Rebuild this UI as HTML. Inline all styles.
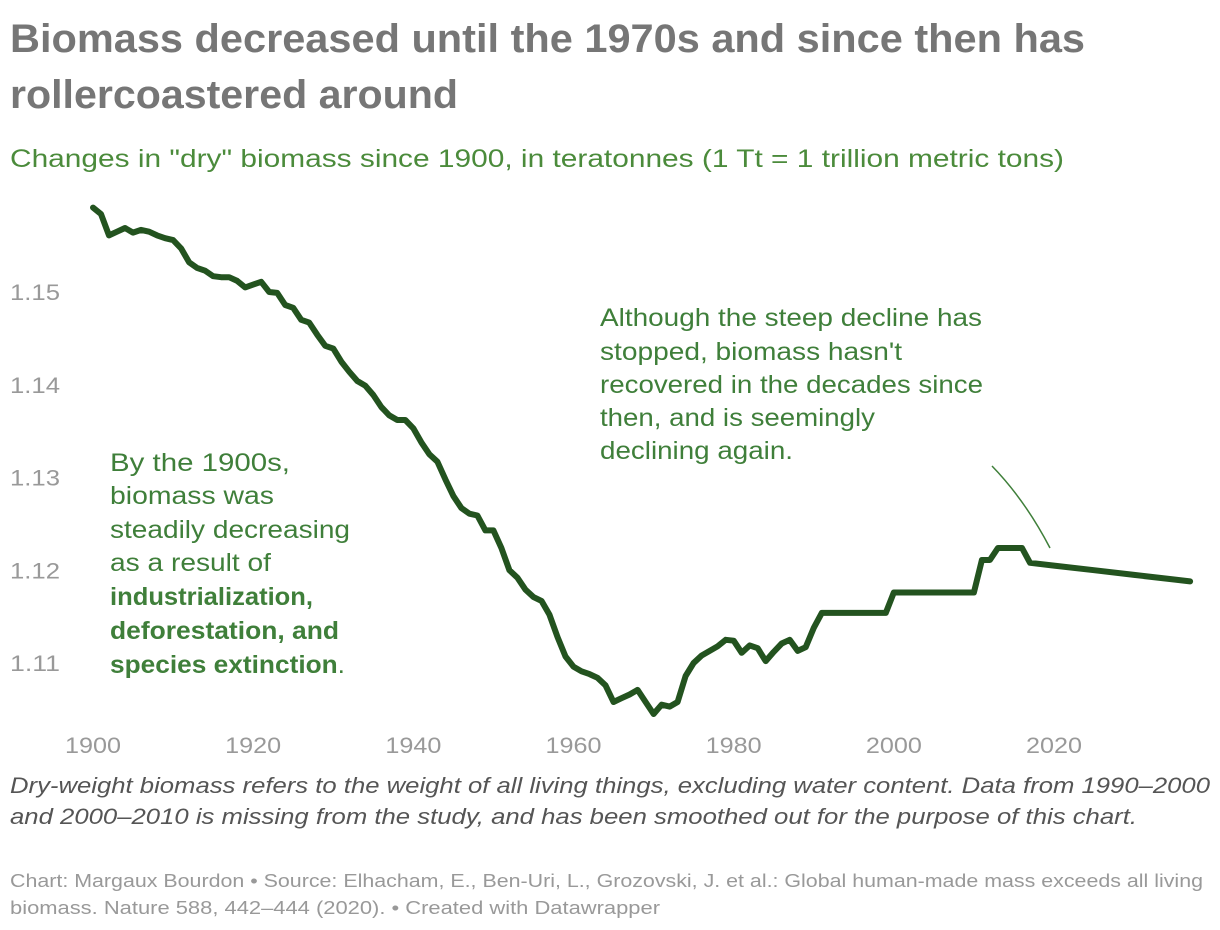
<!DOCTYPE html>
<html><head><meta charset="utf-8"><style>
body{margin:0;background:#fff;}
svg{display:block;font-family:"Liberation Sans",Arial,sans-serif;}
</style></head><body>
<svg id="chart" width="1220" height="930" viewBox="0 0 1220 930">
<text x="10" y="52" font-size="40" font-weight="bold" fill="#767676" textLength="1075" lengthAdjust="spacingAndGlyphs">Biomass decreased until the 1970s and since then has</text>
<text x="10" y="108" font-size="40" font-weight="bold" fill="#767676" textLength="448" lengthAdjust="spacingAndGlyphs">rollercoastered around</text>
<text x="10" y="167" font-size="25" fill="#4b8b3b" textLength="1054" lengthAdjust="spacingAndGlyphs">Changes in "dry" biomass since 1900, in teratonnes (1 Tt = 1 trillion metric tons)</text>
<g id="yticks"></g>
<g id="xticks"></g>
<path id="line" fill="none" stroke="#23531f" stroke-width="6" stroke-linejoin="round" stroke-linecap="round"/>
<g font-size="25" fill="#3f7f3a" lengthAdjust="spacingAndGlyphs">
<text x="110" y="471" textLength="180" lengthAdjust="spacingAndGlyphs">By the 1900s,</text>
<text x="110" y="504" textLength="164" lengthAdjust="spacingAndGlyphs">biomass was</text>
<text x="110" y="538" textLength="240" lengthAdjust="spacingAndGlyphs">steadily decreasing</text>
<text x="110" y="571" textLength="161" lengthAdjust="spacingAndGlyphs">as a result of</text>
<text x="110" y="605" font-weight="bold" textLength="203" lengthAdjust="spacingAndGlyphs">industrialization,</text>
<text x="110" y="639" font-weight="bold" textLength="229" lengthAdjust="spacingAndGlyphs">deforestation, and</text>
<text x="110" y="673" textLength="235" lengthAdjust="spacingAndGlyphs"><tspan font-weight="bold">species extinction</tspan>.</text>
</g>
<g font-size="25" fill="#3f7f3a">
<text x="600" y="326" textLength="382" lengthAdjust="spacingAndGlyphs">Although the steep decline has</text>
<text x="600" y="360" textLength="302" lengthAdjust="spacingAndGlyphs">stopped, biomass hasn't</text>
<text x="600" y="393" textLength="383" lengthAdjust="spacingAndGlyphs">recovered in the decades since</text>
<text x="600" y="426" textLength="275" lengthAdjust="spacingAndGlyphs">then, and is seemingly</text>
<text x="600" y="459" textLength="193" lengthAdjust="spacingAndGlyphs">declining again.</text>
</g>
<path d="M992,466 Q1025,500 1050,548" fill="none" stroke="#3f7f3a" stroke-width="1.5"/>
<text x="10" y="793" font-size="22" font-style="italic" fill="#555" textLength="1200" lengthAdjust="spacingAndGlyphs">Dry-weight biomass refers to the weight of all living things, excluding water content. Data from 1990–2000</text>
<text x="10" y="824" font-size="22" font-style="italic" fill="#555" textLength="1127" lengthAdjust="spacingAndGlyphs">and 2000–2010 is missing from the study, and has been smoothed out for the purpose of this chart.</text>
<text x="10" y="887" font-size="18" fill="#999" textLength="1193" lengthAdjust="spacingAndGlyphs">Chart: Margaux Bourdon • Source: Elhacham, E., Ben-Uri, L., Grozovski, J. et al.: Global human-made mass exceeds all living</text>
<text x="10" y="914" font-size="18" fill="#999" textLength="650" lengthAdjust="spacingAndGlyphs">biomass. Nature 588, 442–444 (2020). • Created with Datawrapper</text>
</svg>
<script>
const years=[1900,1901,1902,1903,1904,1905,1906,1907,1908,1909,1910,1911,1912,1913,1914,1915,1916,1917,1918,1919,1920,1921,1922,1923,1924,1925,1926,1927,1928,1929,1930,1931,1932,1933,1934,1935,1936,1937,1938,1939,1940,1941,1942,1943,1944,1945,1946,1947,1948,1949,1950,1951,1952,1953,1954,1955,1956,1957,1958,1959,1960,1961,1962,1963,1964,1965,1966,1967,1968,1969,1970,1971,1972,1973,1974,1975,1976,1977,1978,1979,1980,1981,1982,1983,1984,1985,1986,1987,1988,1989,1990,1991,1999,2000,2010,2011,2012,2013,2016,2017,2020,2025,2030,2035,2037];
const biomass=[1.1591,1.1584,1.1561,1.1565,1.1569,1.1564,1.1567,1.1565,1.1561,1.1558,1.1556,1.1547,1.1532,1.1526,1.1523,1.1517,1.1516,1.1516,1.1512,1.1505,1.1508,1.1511,1.1500,1.1499,1.1486,1.1483,1.1470,1.1467,1.1454,1.1442,1.1439,1.1425,1.1414,1.1404,1.1399,1.1389,1.1376,1.1367,1.1362,1.1362,1.1353,1.1338,1.1325,1.1317,1.1298,1.1280,1.1267,1.1261,1.1259,1.1243,1.1243,1.1224,1.1200,1.1192,1.1179,1.1171,1.1167,1.1152,1.1128,1.1107,1.1096,1.1091,1.1088,1.1084,1.1076,1.1058,1.1062,1.1066,1.1071,1.1058,1.1045,1.1055,1.1053,1.1058,1.1086,1.1100,1.1108,1.1113,1.1118,1.1125,1.1124,1.1111,1.1119,1.1116,1.1102,1.1112,1.1121,1.1125,1.1113,1.1117,1.1138,1.1154,1.1154,1.1176,1.1176,1.1211,1.1211,1.1224,1.1224,1.1208,1.1205,1.1200,1.1195,1.1190,1.1188];
const yTickVals=[1.11,1.12,1.13,1.14,1.15];
const xTickVals=[1900,1920,1940,1960,1980,2000,2020];
function xs(yr){return 93+(yr-1900)*(1054-93)/120;}
function ys(v){return 292+(1.15-v)*9275;}
const NS="http://www.w3.org/2000/svg";
const yg=document.getElementById('yticks');
yTickVals.forEach(v=>{
  const t=document.createElementNS(NS,'text');
  t.setAttribute('x',10);t.setAttribute('y',ys(v)+8);
  t.setAttribute('font-size','22');t.setAttribute('fill','#999');
  t.setAttribute('textLength','50');t.setAttribute('lengthAdjust','spacingAndGlyphs');
  t.textContent=v.toFixed(2);
  
  
  yg.appendChild(t);
});
const xg=document.getElementById('xticks');
xTickVals.forEach(v=>{
  const t=document.createElementNS(NS,'text');
  t.setAttribute('x',xs(v)-28);t.setAttribute('y',753);
  t.setAttribute('font-size','22');t.setAttribute('fill','#999');
  t.setAttribute('textLength','56');t.setAttribute('lengthAdjust','spacingAndGlyphs');
  t.textContent=v;
  
  
  xg.appendChild(t);
});
document.getElementById('line').setAttribute('d',years.map((y,i)=>(i?'L':'M')+xs(y).toFixed(1)+','+ys(biomass[i]).toFixed(1)).join(' '));
</script>
</body></html>
